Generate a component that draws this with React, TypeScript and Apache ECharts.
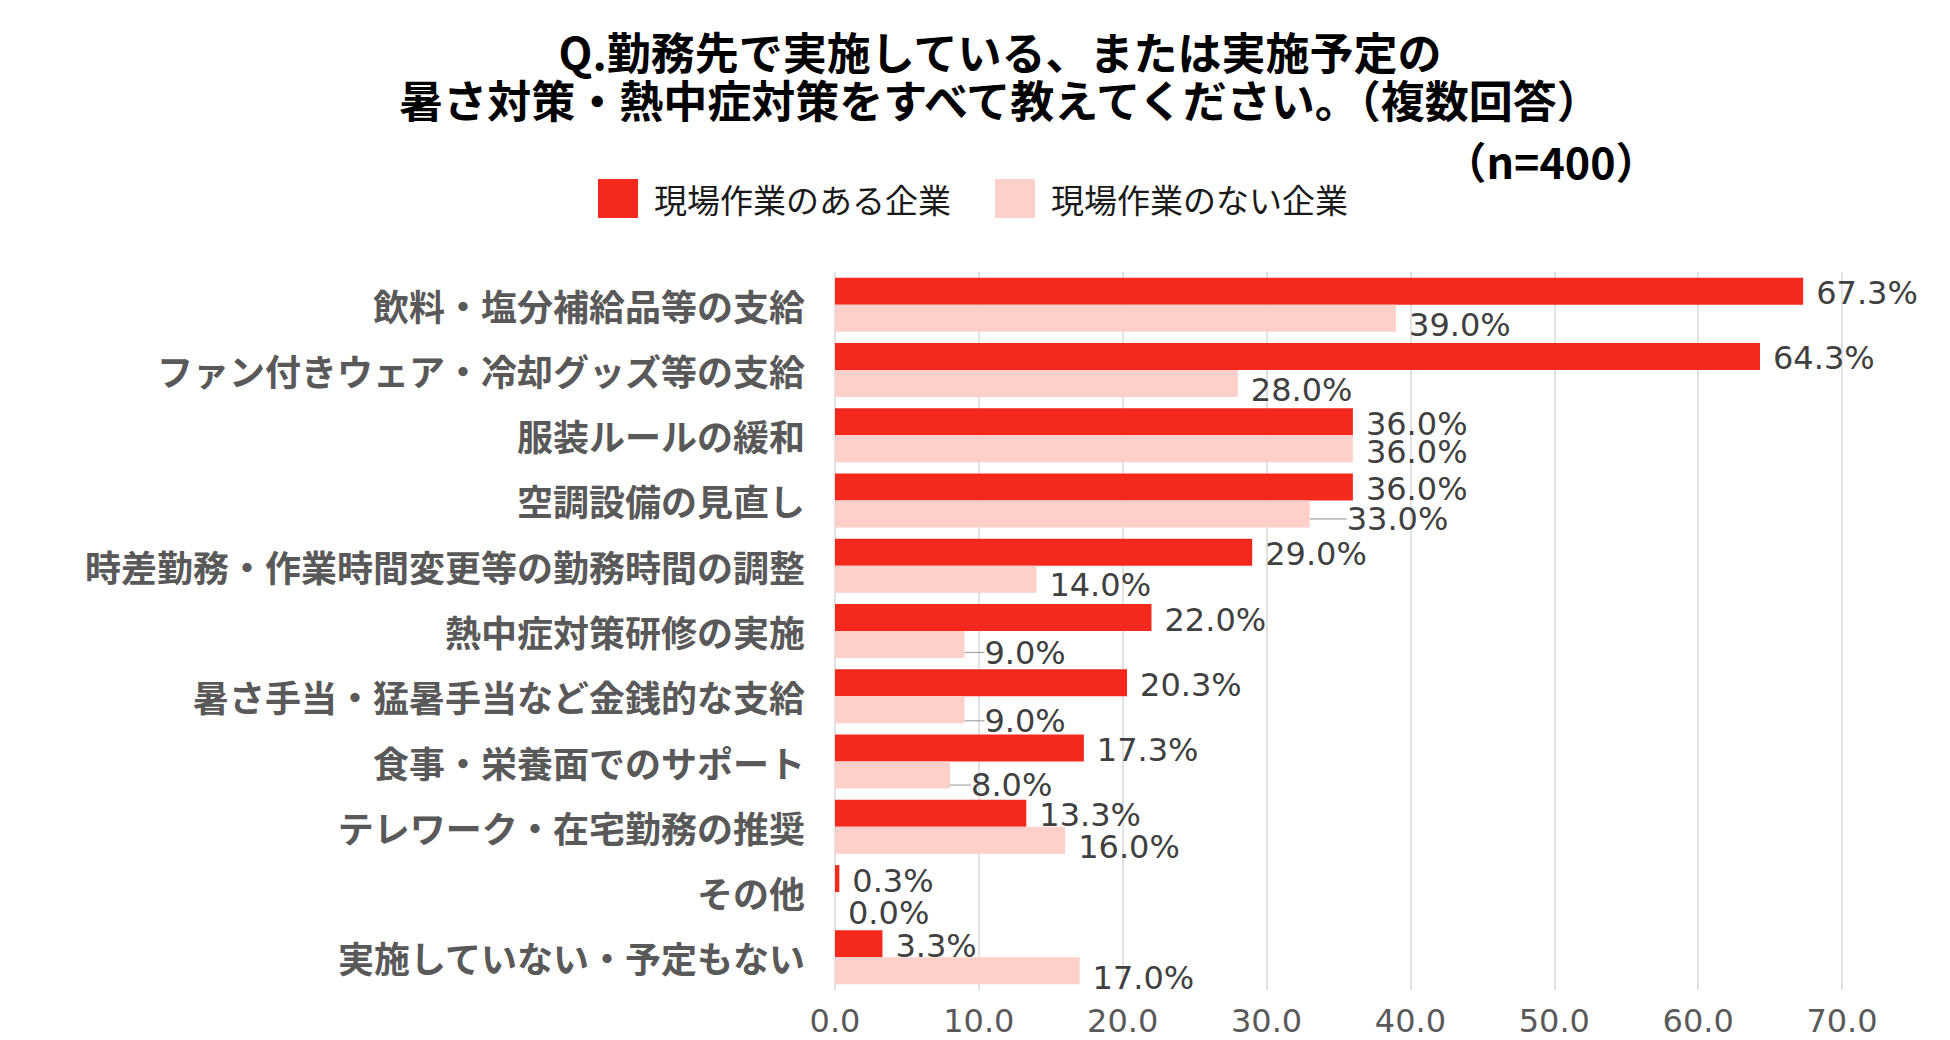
import React, { useEffect, useRef } from "react";
import * as echarts from "echarts";

const titleLines = [
  "Q.勤務先で実施している、または実施予定の",
  "暑さ対策・熱中症対策をすべて教えてください。（複数回答）",
];
const sampleNote = "（n=400）";
const seriesNames = ["現場作業のある企業", "現場作業のない企業"];
const categories = [
  "飲料・塩分補給品等の支給",
  "ファン付きウェア・冷却グッズ等の支給",
  "服装ルールの緩和",
  "空調設備の見直し",
  "時差勤務・作業時間変更等の勤務時間の調整",
  "熱中症対策研修の実施",
  "暑さ手当・猛暑手当など金銭的な支給",
  "食事・栄養面でのサポート",
  "テレワーク・在宅勤務の推奨",
  "その他",
  "実施していない・予定もない",
];
const withFieldWork = [67.3, 64.3, 36.0, 36.0, 29.0, 22.0, 20.3, 17.3, 13.3, 0.3, 3.3];
const withoutFieldWork = [39.0, 28.0, 36.0, 33.0, 14.0, 9.0, 9.0, 8.0, 16.0, 0.0, 17.0];
const axisMin = 0;
const axisMax = 70;
const axisStep = 10;

// label nudges (styling only), [dx, dy] per category for the light series
const lightLabelShift = [
  [0, 7], [0, 7], [0, 3], [24, 5], [0, 6], [7, 8], [7, 11], [8, 10], [0, 7], [0, 7], [0, 7],
];
const lightLeaderRows = [3, 5, 6, 7];

const CJK = '"Noto Sans CJK JP", "Noto Sans", sans-serif';
const NUM = '"DejaVu Sans", "Noto Sans", sans-serif';
const RED = "#F4281C";
const PINK = "#FED0C9";

export default function App() {
  const ref = useRef<HTMLDivElement>(null);
  useEffect(() => {
    document.body.style.margin = "0";
    if (!ref.current) return;
    const chart = echarts.init(ref.current, null, { renderer: "svg" });
    const pct = (p: any) => Number(p.value).toFixed(1) + "%";
    chart.setOption({
      animation: false,
      backgroundColor: "#ffffff",
      graphic: [
        {
          type: "text",
          x: 1000,
          y: 51,
          style: {
            text: titleLines[0],
            fontSize: 44,
            fontWeight: "bold",
            fontFamily: CJK,
            fill: "#000000",
            textAlign: "center",
            textVerticalAlign: "middle",
          },
        },
        {
          type: "text",
          x: 1000,
          y: 99,
          style: {
            text: titleLines[1],
            fontSize: 44,
            fontWeight: "bold",
            fontFamily: CJK,
            fill: "#000000",
            textAlign: "center",
            textVerticalAlign: "middle",
          },
        },
        {
          type: "text",
          x: 1551,
          y: 160,
          style: {
            text: sampleNote,
            fontSize: 43,
            fontWeight: "bold",
            fontFamily: CJK,
            fill: "#000000",
            textAlign: "center",
            textVerticalAlign: "middle",
          },
        },
      ],
      legend: {
        data: seriesNames,
        left: 593,
        top: 174,
        icon: "rect",
        itemWidth: 40,
        itemHeight: 39,
        itemGap: 44,
        textStyle: {
          fontSize: 33,
          color: "#1a1a1a",
          fontFamily: CJK,
          padding: [0, 0, 0, 11],
        },
      },
      grid: {
        left: 835,
        right: 108,
        top: 272,
        bottom: 50,
        containLabel: false,
        outerBoundsMode: "none",
      },
      xAxis: {
        type: "value",
        min: axisMin,
        max: axisMax,
        interval: axisStep,
        axisLine: { show: false },
        axisTick: { show: false },
        splitLine: { show: true, lineStyle: { color: "#D9D9D9", width: 1.5 } },
        axisLabel: {
          formatter: (v: number) => v.toFixed(1),
          fontSize: 32,
          lineHeight: 32,
          color: "#595959",
          fontFamily: NUM,
          margin: 15,
        },
      },
      yAxis: {
        type: "category",
        data: categories,
        inverse: true,
        axisLine: { show: false },
        axisTick: { show: false },
        splitLine: { show: false },
        axisLabel: {
          fontSize: 36,
          fontWeight: "bold",
          color: "#595959",
          fontFamily: CJK,
          margin: 30,
        },
      },
      series: [
        {
          name: seriesNames[0],
          type: "bar",
          data: withFieldWork,
          barWidth: 27,
          barGap: "0%",
          itemStyle: { color: RED },
          label: {
            show: true,
            position: "right",
            distance: 13,
            formatter: pct,
            fontSize: 32,
            color: "#404040",
            fontFamily: NUM,
          },
          labelLayout: { dy: 2 },
        },
        {
          name: seriesNames[1],
          type: "bar",
          data: withoutFieldWork.map((v, i) => ({
            value: v,
            labelLine: { show: lightLeaderRows.includes(i) },
          })),
          barWidth: 27,
          barGap: "0%",
          itemStyle: { color: PINK },
          label: {
            show: true,
            position: "right",
            distance: 13,
            formatter: pct,
            fontSize: 32,
            color: "#404040",
            fontFamily: NUM,
          },
          labelLine: {
            show: false,
            lineStyle: { color: "#A6A6A6", width: 1.2 },
          },
          labelLayout: (p: any) => ({
            dx: lightLabelShift[p.dataIndex][0],
            dy: lightLabelShift[p.dataIndex][1],
          }),
        },
      ],
    });
    return () => chart.dispose();
  }, []);
  return <div ref={ref} style={{ width: 1950, height: 1040 }} />;
}
